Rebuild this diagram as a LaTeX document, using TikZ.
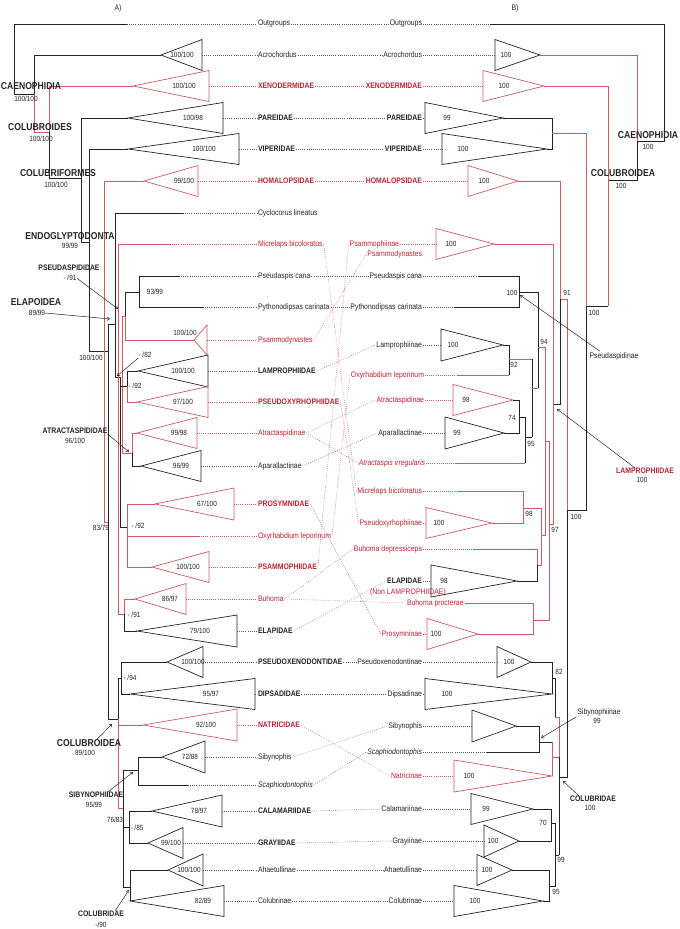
\documentclass[tikz,border=0pt]{standalone}
\usepackage{fontspec}
\setmainfont{Liberation Sans}[FakeStretch=0.86]
\usetikzlibrary{arrows.meta}
\definecolor{tred}{RGB}{185,35,50}
\definecolor{lred}{RGB}{205,90,100}
\definecolor{ink}{RGB}{35,35,35}
\newcommand{\lbl}{\fontsize{8}{9}\selectfont}
\newcommand{\nbr}{\fontsize{7.5}{9}\selectfont}
\newcommand{\clf}{\fontsize{10}{12}\selectfont\bfseries}
\tikzset{
  tx/.style={font=\lbl,inner sep=0.8pt,text=ink},
  fam/.style={font=\lbl\bfseries,inner sep=0.8pt,text=ink},
  rd/.style={text=tred},
  num/.style={font=\nbr,inner sep=0pt,text=ink},
  clade/.style={font=\clf,inner sep=0pt,text=ink},
  sclade/.style={font=\lbl\bfseries,inner sep=0pt,text=ink},
  br/.style={draw=ink,line width=0.7pt},
  rbr/.style={draw=lred,line width=0.7pt},
  dotl/.style={draw=ink!75,line width=0.55pt,dash pattern=on 0.6pt off 1.5pt},
  rdotl/.style={dotl,draw=lred},
  ptr/.style={draw=ink,line width=0.5pt,-{Straight Barb[length=2.5pt,width=3.5pt]}}
}
\begin{document}
\begin{tikzpicture}[x=1pt,y=-1pt]
\useasboundingbox (0,0) rectangle (680,929);
\node[tx] (hA) at (118,8) {A)};
\node[tx] (hB) at (515,8) {B)};

% left labels
\node[tx,anchor=west] (lOut) at (257,24) {Outgroups};
\node[tx,anchor=west] (lAcr) at (257,55) {Acrochordus};
\node[fam,rd,anchor=west] (lXen) at (257,86) {XENODERMIDAE};
\node[fam,anchor=west] (lPar) at (257,118) {PAREIDAE};
\node[fam,anchor=west] (lVip) at (257,149) {VIPERIDAE};
\node[fam,rd,anchor=west] (lHom) at (257,181) {HOMALOPSIDAE};
\node[tx,anchor=west] (lCyc) at (257,213) {Cyclocorus lineatus};
\node[tx,rd,anchor=west] (lMic) at (257,244) {Micrelaps bicoloratus};
\node[tx,anchor=west] (lPse) at (257,276) {Pseudaspis cana};
\node[tx,anchor=west] (lPyt) at (257,307) {Pythonodipsas carinata};
\node[tx,rd,anchor=west] (lPsd) at (257,340) {Psammodynastes};
\node[fam,anchor=west] (lLam) at (257,371) {LAMPROPHIIDAE};
\node[fam,rd,anchor=west] (lPxy) at (257,402) {PSEUDOXYRHOPHIIDAE};
\node[tx,rd,anchor=west] (lAtr) at (257,433) {Atractaspidinae};
\node[tx,anchor=west] (lApa) at (257,466) {Aparallactinae};
\node[fam,rd,anchor=west] (lPro) at (257,504) {PROSYMNIDAE};
\node[tx,rd,anchor=west] (lOxy) at (257,536) {Oxyrhabdium leporinum};
\node[fam,rd,anchor=west] (lPsm) at (257,567) {PSAMMOPHIIDAE};
\node[tx,rd,anchor=west] (lBuh) at (257,599) {Buhoma};
\node[fam,anchor=west] (lEla) at (257,631) {ELAPIDAE};
\node[fam,anchor=west] (lPxe) at (257,662) {PSEUDOXENODONTIDAE};
\node[fam,anchor=west] (lDip) at (257,694) {DIPSADIDAE};
\node[fam,rd,anchor=west] (lNat) at (257,725) {NATRICIDAE};
\node[tx,anchor=west] (lSib) at (257,757) {Sibynophis};
\node[tx,anchor=west,font=\lbl\itshape] (lSca) at (257,785) {Scaphiodontophis};
\node[fam,anchor=west] (lCal) at (257,811) {CALAMARIIDAE};
\node[fam,anchor=west] (lGra) at (257,843) {GRAYIIDAE};
\node[tx,anchor=west] (lAha) at (257,870) {Ahaetullinae};
\node[tx,anchor=west] (lCol) at (257,901) {Colubrinae};

% right labels
\node[tx,anchor=east] (rOut) at (423,24) {Outgroups};
\node[tx,anchor=east] (rAcr) at (423,55) {Acrochordus};
\node[fam,rd,anchor=east] (rXen) at (423,86) {XENODERMIDAE};
\node[fam,anchor=east] (rPar) at (423,118) {PAREIDAE};
\node[fam,anchor=east] (rVip) at (423,149) {VIPERIDAE};
\node[fam,rd,anchor=east] (rHom) at (423,181) {HOMALOPSIDAE};
\node[tx,rd,anchor=east] (rPsp) at (400,244) {Psammophiinae};
\node[tx,rd,anchor=east] (rPsd) at (423,254) {Psammodynastes};
\node[tx,anchor=east] (rPse) at (423,276) {Pseudaspis cana};
\node[tx,anchor=east] (rPyt) at (423,307) {Pythonodipsas carinata};
\node[tx,anchor=east] (rLam) at (423,345) {Lamprophiinae};
\node[tx,rd,anchor=east] (rOxy) at (425,375) {Oxyrhabdium leporinum};
\node[tx,rd,anchor=east] (rAtr) at (425,400) {Atractaspidinae};
\node[tx,anchor=east] (rApa) at (423,433) {Aparallactinae};
\node[tx,rd,anchor=east,font=\lbl\itshape] (rAti) at (426,463) {Atractaspis irregularis};
\node[tx,rd,anchor=east] (rMic) at (423,491) {Micrelaps bicoloratus};
\node[tx,rd,anchor=east] (rPxy) at (423,523) {Pseudoxyrhophiinae};
\node[tx,rd,anchor=east] (rBud) at (423,549) {Buhoma depressiceps};
\node[fam,anchor=east] (rEla) at (423,581) {ELAPIDAE};
\node[tx,rd] (rElaN) at (408,592) {(Non LAMPROPHIIDAE)};
\node[tx,rd,anchor=west] (rBup) at (406,603) {Buhoma procterae};
\node[tx,rd,anchor=east] (rPrs) at (423,634) {Prosymninae};
\node[tx,anchor=east] (rPxe) at (423,662) {Pseudoxenodontinae};
\node[tx,anchor=east] (rDip) at (423,694) {Dipsadinae};
\node[tx,anchor=east] (rSib) at (423,726) {Sibynophis};
\node[tx,anchor=east,font=\lbl\itshape] (rSca) at (423,752) {Scaphiodontophis};
\node[tx,rd,anchor=east] (rNat) at (423,776) {Natricinae};
\node[tx,anchor=east] (rCal) at (423,809) {Calamariinae};
\node[tx,anchor=east] (rGra) at (423,841) {Grayiinae};
\node[tx,anchor=east] (rAha) at (423,870) {Ahaetullinae};
\node[tx,anchor=east] (rCol) at (423,901) {Colubrinae};

% collapsed clades, tree A
\foreach \n/\a/\y/\b/\h/\t/\lx/\c in {
  Acr/161/55/202/15.5/{100/100}/182/ink, Xen/133/86/209/15.5/{100/100}/184/lred,
  Par/128/118/223/15.5/{100/98}/193/ink, Vip/128/149/239/15.5/{100/100}/204/ink,
  Hom/144/181/198/15.5/{99/100}/184/lred, Psd/194/340/207/15/{}/0/lred,
  Lam/138/371/208/16/{100/100}/183/ink, Pxy/137/402/208/15.5/{97/100}/183/lred,
  Atr/137/433/197/15.5/{99/98}/179/lred, Apa/141/466/201/15.5/{96/99}/181/ink,
  Pro/155/504/234/16/{67/100}/207/lred, Psm/152/567/209/15.5/{100/100}/188/lred,
  Buh/135/599/186/15.5/{86/97}/170/lred, Ela/137/631/237/16/{79/100}/200/ink,
  Pxe/167/662/203/15.5/{100/100}/193/ink, Dip/130/694/255/15.5/{95/97}/211/ink,
  Nat/143/725/237/16/{92/100}/206/lred, Sib/162/757/205/16/{72/88}/190/ink,
  Cal/152/811/222/16/{78/97}/199/ink, Gra/148/843/183/15.5/{99/100}/171/ink,
  Aha/168/870/203/16/{100/100}/189/ink, Col/130/901/224/15.5/{82/89}/203/ink}
{
  \draw[draw=\c,line width=0.7pt] (\a,\y) -- (\b,\y-\h) -- (\b,\y+\h) -- cycle;
  \coordinate (L\n) at (\b,\y);
  \node[num] (L\n-n) at (\lx,\y) {\t};
}
% collapsed clades, tree B
\foreach \n/\b/\y/\a/\h/\t/\lx/\c in {
  Acr/495/55/540/15.5/100/506/ink, Xen/483/86/544/15.5/100/504/lred,
  Par/425/118/503/15.5/99/447/ink, Vip/442/149/547/15.5/100/463/ink,
  Hom/468/181/518/15.5/100/484/lred, Psp/436/244/494/15.5/100/451/lred,
  Lam/441/345/503/16/100/453/ink, Atr/453/400/513/15.5/98/466/lred,
  Apa/445/433/504/16/99/457/ink, Pxy/426/523/492/15.5/100/439/lred,
  Ela/431/581/517/16/98/444/ink, Prs/427/634/478/15.5/100/436/lred,
  Pxe/497/662/531/15.5/100/509/ink, Dip/425/694/552/15.5/100/447/ink,
  Sib/472/726/516/16/{}/0/ink, Nat/454/776/552/16/100/469/lred,
  Cal/471/809/533/15.5/99/486/ink, Gra/484/841/519/16/100/493/ink,
  Aha/477/870/512/15.5/100/487/ink, Col/454/901/543/15.5/100/475/ink}
{
  \draw[draw=\c,line width=0.7pt] (\a,\y) -- (\b,\y-\h) -- (\b,\y+\h) -- cycle;
  \coordinate (R\n) at (\b,\y);
  \node[num] (R\n-n) at (\lx,\y) {\t};
}

% single terminals
\coordinate (LOut) at (127,24);
\coordinate (LCyc) at (183,213);
\coordinate (LMic) at (170,244);
\coordinate (LPse) at (179,276);
\coordinate (LPyt) at (203,307);
\coordinate (LOxy) at (199,536);
\coordinate (LSca) at (188,785);
\coordinate (ROut) at (490,24);
\coordinate (RPse) at (479,276);
\coordinate (RPyt) at (454,307);
\coordinate (ROxy) at (458,375);
\coordinate (RAti) at (455,463);
\coordinate (RMic) at (458,491);
\coordinate (RBud) at (473,549);
\coordinate (RSca) at (487,752);

% tree A
\draw[br] (LOut) -- (14,24) -- (14,94) -- (34,94) -- (34,55) -- (161,55);
\draw[rbr] (34,94) -- (34,132) -- (49,132) -- (49,86) -- (133,86);
\draw[br] (49,132) -- (49,178) -- (81,178);
\draw[br] (128,118) -- (81,118) -- (81,242) -- (89,242);
\draw[br] (128,149) -- (89,149) -- (89,351) -- (108,351);
\draw[br] (115,324) -- (108,324) -- (108,719) -- (118,719);
\draw[br] (LCyc) -- (115,213) -- (115,377) -- (120,377);
\draw[rbr] (144,181) -- (104,181) -- (104,522) -- (108,522);
\draw[rbr] (LMic) -- (118,244) -- (118,614) -- (124,614);
\draw[br] (LPse) -- (139,276) -- (139,307) -- (LPyt);
\draw[br] (139,292) -- (125,292) -- (125,316);
\draw[rbr] (194,340) -- (125,340) -- (125,316) -- (122,316) -- (122,453) -- (132,453) -- (132,433) -- (137,433);
\draw[br] (132,453) -- (132,466) -- (141,466);
\draw[br] (120,377) -- (120,527) -- (127,527);
\draw[br] (120,386) -- (127,386) -- (127,371) -- (138,371);
\draw[rbr] (127,386) -- (127,402) -- (137,402);
\draw[rbr] (155,504) -- (127,504) -- (127,567) -- (152,567);
\draw[rbr] (127,536) -- (LOxy);
\draw[rbr] (135,599) -- (124,599) -- (124,614);
\draw[br] (124,614) -- (124,631) -- (137,631);
\draw[br] (167,662) -- (121,662) -- (121,694) -- (130,694);
\draw[br] (118,719) -- (118,678) -- (121,678);
\draw[rbr] (118,719) -- (118,808) -- (123,808);
\draw[rbr] (118,725) -- (143,725);
\draw[br] (162,757) -- (138,757) -- (138,785) -- (LSca);
\draw[br] (123,770) -- (138,770);
\draw[br] (123,770) -- (123,887) -- (130,887);
\draw[br] (152,811) -- (129,811) -- (129,843) -- (148,843);
\draw[br] (123,827) -- (129,827);
\draw[br] (168,870) -- (130,870) -- (130,901);

% tree B
\draw[br] (ROut) -- (664,24) -- (664,141) -- (637,141) -- (637,180) -- (608,180);
\draw[rbr] (540,55) -- (637,55) -- (637,141);
\draw[rbr] (544,86) -- (608,86) -- (608,306);
\draw[br] (503,118) -- (552,118) -- (552,149) -- (547,149);
\draw[rbr] (552,133) -- (586,133) -- (586,306);
\draw[br] (608,306) -- (586,306) -- (586,510) -- (567,510) -- (567,777) -- (559,777);
\draw[rbr] (518,181) -- (560,181) -- (560,299) -- (567,299) -- (567,510);
\draw[br] (560,299) -- (560,404) -- (553,404);
\draw[rbr] (494,244) -- (553,244) -- (553,524) -- (549,524);
\draw[br] (RPse) -- (519,276) -- (519,307) -- (RPyt);
\draw[br] (519,292) -- (538,292) -- (538,388);
\draw[rbr] (538,347) -- (545,347) -- (545,535) -- (541,535);
\draw[br] (503,345) -- (509,345) -- (509,375);
\draw[rbr] (ROxy) -- (509,375);
\draw[rbr] (509,359) -- (532,359);
\draw[br] (532,359) -- (532,437);
\draw[rbr] (532,388) -- (538,388);
\draw[br] (513,400) -- (519,400) -- (519,433) -- (504,433);
\draw[br] (519,417) -- (525,417) -- (525,463);
\draw[rbr] (RAti) -- (525,463);
\draw[br] (525,437) -- (532,437);
\draw[rbr] (545,441) -- (549,441) -- (549,620) -- (533,620);
\draw[rbr] (RMic) -- (523,491) -- (523,523) -- (492,523);
\draw[rbr] (523,508) -- (541,508) -- (541,565) -- (537,565);
\draw[rbr] (RBud) -- (537,549) -- (537,565);
\draw[br] (537,565) -- (537,581) -- (517,581);
\draw[rbr] (rBup.east) -- (533,603) -- (533,634) -- (478,634);
\draw[br] (531,662) -- (552,662) -- (552,694);
\draw[br] (552,678) -- (555,678) -- (555,717);
\draw[rbr] (555,717) -- (559,717) -- (559,757);
\draw[br] (559,757) -- (559,855);
\draw[br] (516,726) -- (539,726) -- (539,752) -- (RSca);
\draw[br] (539,742) -- (552,742);
\draw[rbr] (552,742) -- (552,776);
\draw[rbr] (552,757) -- (559,757);
\draw[br] (533,809) -- (551,809) -- (551,841) -- (519,841);
\draw[br] (551,823) -- (555,823) -- (555,886) -- (549,886);
\draw[br] (555,855) -- (559,855);
\draw[br] (512,870) -- (549,870) -- (549,901) -- (543,901);

% dotted leaders
\foreach \n in {Out,Acr,Par,Vip,Cyc,Pse,Pyt,Lam,Apa,Ela,Pxe,Dip,Sib,Sca,Cal,Gra,Aha,Col}
  \draw[dotl] (L\n) -- (l\n.west);
\foreach \n in {Xen,Hom,Mic,Psd,Pxy,Atr,Pro,Oxy,Psm,Buh,Nat}
  \draw[rdotl] (L\n) -- (l\n.west);
\foreach \n in {Out,Acr,Par,Vip,Pse,Pyt,Lam,Apa,Ela,Pxe,Dip,Sib,Sca,Cal,Gra,Aha,Col}
  \draw[dotl] (r\n.east) -- (R\n);
\foreach \n in {Xen,Hom,Psp,Oxy,Atr,Ati,Mic,Pxy,Bud,Prs,Nat}
  \draw[rdotl] (r\n.east) -- (R\n);
% tanglegram links
\foreach \a/\b in {Out/Out,Acr/Acr,Par/Par,Vip/Vip,Pse/Pse,Pyt/Pyt,Lam/Lam,Apa/Apa,
  Ela/Ela,Pxe/Pxe,Dip/Dip,Sib/Sib,Sca/Sca,Cal/Cal,Gra/Gra,Aha/Aha,Col/Col}
  \draw[dotl] (l\a.east) -- (r\b.west);
\foreach \a/\b in {Xen/Xen,Hom/Hom,Mic/Mic,Psd/Psd,Pxy/Pxy,Atr/Atr,Atr/Ati,Pro/Prs,
  Oxy/Oxy,Psm/Psp,Buh/Bud,Buh/Bup,Nat/Nat}
  \draw[rdotl] (l\a.east) -- (r\b.west);

% support values
\node[num] (n100L) at (91,358) {100/100};
\node[num] (n9399) at (155,292) {93/99};
\node[num] (nPsd) at (185,333) {100/100};
\node[num] (n82) at (145,355) {- /82};
\node[num] (n92a) at (135,386) {- /92};
\node[num] (n8379) at (101,528) {83/79};
\node[num] (n92b) at (138,526) {- /92};
\node[num] (n91) at (134,615) {- /91};
\node[num] (n94) at (130,678) {- /94};
\node[num] (n7683) at (115,820) {76/83};
\node[num] (n85) at (137,828) {- /85};
\node[num] (m100a) at (512,293) {100};
\node[num] (m91) at (567,293) {91};
\node[num] (m94) at (544,342) {94};
\node[num] (m92) at (514,365) {92};
\node[num] (m74) at (512,418) {74};
\node[num] (m100b) at (594,313) {100};
\node[num] (m95a) at (531,444) {95};
\node[num] (m98) at (529,514) {98};
\node[num] (m97) at (555,530) {97};
\node[num] (m100c) at (576,517) {100};
\node[num] (m82) at (559,672) {82};
\node[num] (m70) at (543,823) {70};
\node[num] (m99) at (561,860) {99};
\node[num] (m95b) at (556,892) {95};

% clade names, tree A
\node[clade] (cCae) at (31,86) {CAENOPHIDIA};
\node[num] (cCaeN) at (26,99) {100/100};
\node[clade] (cCoi) at (40,127) {COLUBROIDES};
\node[num] (cCoiN) at (41,139) {100/100};
\node[clade] (cCof) at (58,173) {COLUBRIFORMES};
\node[num] (cCofN) at (56,185) {100/100};
\node[clade] (cEnd) at (70,236) {ENDOGLYPTODONTA};
\node[num] (cEndN) at (70,246) {99/99};
\node[sclade] (cPsa) at (69,268) {PSEUDASPIDIDAE};
\node[num] (cPsaN) at (70,278) {- /91};
\node[clade] (cElp) at (36,302) {ELAPOIDEA};
\node[num] (cElpN) at (37,313) {89/99};
\node[sclade] (cAtr) at (75,431) {ATRACTASPIDIDAE};
\node[num] (cAtrN) at (75,441) {96/100};
\node[clade] (cCol) at (89,743) {COLUBROIDEA};
\node[num] (cColN) at (85,753) {89/100};
\node[sclade] (cSib) at (96,795) {SIBYNOPHIIDAE};
\node[num] (cSibN) at (94,805) {95/99};
\node[sclade] (cClb) at (101,914) {COLUBRIDAE};
\node[num] (cClbN) at (101,925) {-/90};
% clade names, tree B
\node[clade] (dCae) at (648,135) {CAENOPHIDIA};
\node[num] (dCaeN) at (648,147) {100};
\node[clade] (dCoo) at (623,173) {COLUBROIDEA};
\node[num] (dCooN) at (621,186) {100};
\node[tx] (dPsd) at (614,356) {Pseudaspidinae};
\node[sclade,rd] (dLam) at (645,471) {LAMPROPHIIDAE};
\node[num] (dLamN) at (642,480) {100};
\node[tx] (dSib) at (599,712) {Sibynophiinae};
\node[num] (dSibN) at (597,721) {99};
\node[sclade] (dClb) at (593,799) {COLUBRIDAE};
\node[num] (dClbN) at (590,808) {100};

% pointers
\coordinate (aPsa) at (118,309);
\coordinate (aElp) at (110,319);
\coordinate (a82) at (117,376);
\coordinate (aAtr) at (129,452);
\coordinate (aCol) at (112,724);
\coordinate (aSib) at (133,772);
\coordinate (aClb) at (129,890);
\coordinate (bPsd) at (520,295);
\coordinate (bLam) at (557,409);
\coordinate (bSib) at (541,738);
\coordinate (bClb) at (563,781);
\draw[ptr] (cPsaN.east) -- (aPsa);
\draw[ptr] (cElpN.east) -- (aElp);
\draw[ptr] (n82.south west) -- (a82);
\draw[ptr] (cAtr.south east) -- (aAtr);
\draw[ptr] ([xshift=8pt]cCol.north) -- (aCol);
\draw[ptr] ([xshift=12pt]cSib.north) -- (aSib);
\draw[ptr] ([xshift=14pt]cClb.north) -- (aClb);
\draw[ptr] ([xshift=-14pt]dPsd.north) -- (bPsd);
\draw[ptr] ([xshift=-10pt]dLam.north) -- (bLam);
\draw[ptr] (dSib.south west) -- (bSib);
\draw[ptr] ([xshift=-14pt]dClb.north) -- (bClb);
\end{tikzpicture}
\end{document}
